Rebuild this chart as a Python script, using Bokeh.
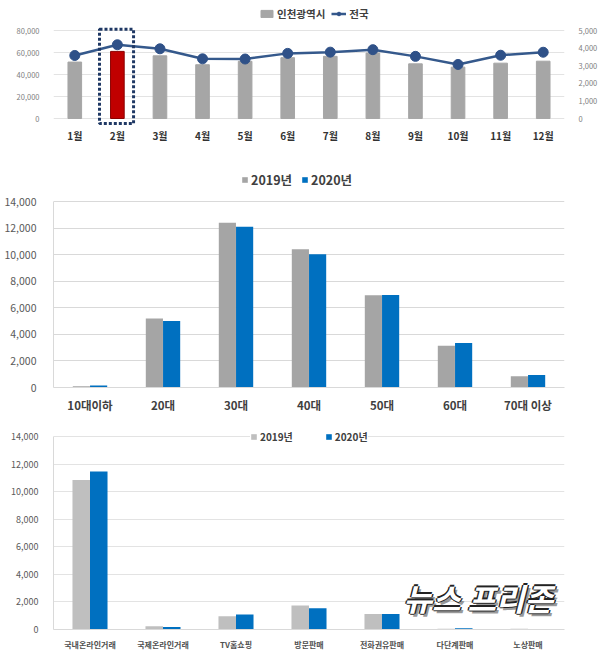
from bokeh.plotting import figure
from bokeh.layouts import column
from bokeh.models import (ColumnDataSource, FactorRange, Range1d, LinearAxis, FixedTicker,
                          NumeralTickFormatter, Legend, LegendItem, BoxAnnotation, Label)
from bokeh.transform import dodge
from bokeh.embed import file_html
from bokeh.resources import INLINE

FONT = "Noto Sans CJK KR"

# ---------------- data ----------------
months = ["1월", "2월", "3월", "4월", "5월", "6월", "7월", "8월", "9월", "10월", "11월", "12월"]
incheon = [51300, 61000, 57000, 48900, 52000, 55300, 56500, 59500, 49700, 46700, 50300, 52100]
national = [3580, 4190, 3960, 3390, 3380, 3700, 3770, 3910, 3530, 3070, 3595, 3765]
highlight_month = "2월"
incheon_ticks = [0, 20000, 40000, 60000, 80000]
national_ticks = [0, 1000, 2000, 3000, 4000, 5000]
chart1_series = ["인천광역시", "전국"]

age_groups = ["10대이하", "20대", "30대", "40대", "50대", "60대", "70대 이상"]
age_2019 = [100, 5200, 12400, 10400, 6950, 3150, 850]
age_2020 = [150, 5000, 12100, 10030, 6970, 3350, 950]

channels = ["국내온라인거래", "국제온라인거래", "TV홈쇼핑", "방문판매", "전화권유판매", "다단계판매", "노상판매"]
ch_2019 = [10850, 240, 960, 1740, 1130, 50, 50]
ch_2020 = [11470, 190, 1085, 1550, 1130, 90, 15]

count_ticks = [0, 2000, 4000, 6000, 8000, 10000, 12000, 14000]
years = ["2019년", "2020년"]
watermark = "뉴스 프리존"

GREY1 = "#A6A6A6"
RED = "#C00000"
NAVY_LINE = "#35598C"
BLUE = "#0070C0"
GRID = "#D9D9D9"


def base_fig(h, left, right, top, bottom, x_range, y_range):
    p = figure(width=600, height=h, x_range=x_range, y_range=y_range,
               output_backend="svg", toolbar_location=None,
               min_border_left=left, min_border_right=right,
               min_border_top=top, min_border_bottom=bottom)
    p.outline_line_color = None
    p.background_fill_color = "white"
    p.border_fill_color = "white"
    p.xgrid.grid_line_color = None
    p.ygrid.grid_line_color = GRID
    p.ygrid.grid_line_width = 1
    for ax in (p.xaxis, p.yaxis):
        ax.major_tick_line_color = None
        ax.minor_tick_line_color = None
    return p


# ---------------- chart 1 ----------------
F1_H, F1_TOP, F1_BOT = 150, 3, 25
frame1_h = F1_H - F1_TOP - F1_BOT        # 122 px
f1_bottom_abs = F1_H - F1_BOT            # 125
px1 = 88 / 80000.0                       # 0 at y=118, 80,000 at y=30
y1 = Range1d(-(f1_bottom_abs - 118) / px1, 80000 + (30 - F1_TOP) / px1)
p1 = base_fig(F1_H, 37, 35, F1_TOP, F1_BOT, FactorRange(*months), y1)
p1.ygrid.grid_line_color = "#E3E3E3"
ratio = 5000 / 80000.0
p1.extra_y_ranges = {"nat": Range1d(y1.start * ratio, y1.end * ratio)}

src1 = ColumnDataSource(dict(
    m=months, inc=incheon, nat=national,
    color=[RED if m == highlight_month else GREY1 for m in months],
    lcolor=["#8A0000" if m == highlight_month else GREY1 for m in months],
))
bars1 = p1.vbar(x="m", top="inc", width=0.32, source=src1, fill_color="color", line_color="lcolor",
                line_width=1)
line1 = p1.line(x="m", y="nat", source=src1, y_range_name="nat", line_color=NAVY_LINE, line_width=2.5)
dots1 = p1.scatter(x="m", y="nat", source=src1, y_range_name="nat", size=10,
                   fill_color="#2F5188", line_color="#2F5188")

p1.yaxis.ticker = FixedTicker(ticks=incheon_ticks)
p1.yaxis.formatter = NumeralTickFormatter(format="0,0")
p1.yaxis.axis_line_color = None
p1.yaxis.major_label_standoff = 8
p1.yaxis.major_label_text_font = FONT
p1.yaxis.major_label_text_font_size = "7.5px"
p1.yaxis.major_label_text_color = "#808080"

rax = LinearAxis(y_range_name="nat", ticker=FixedTicker(ticks=national_ticks),
                 formatter=NumeralTickFormatter(format="0,0"))
rax.axis_line_color = None
rax.major_tick_line_color = None
rax.minor_tick_line_color = None
rax.major_label_standoff = 8
rax.major_label_text_font = FONT
rax.major_label_text_font_size = "7.5px"
rax.major_label_text_color = "#808080"
p1.add_layout(rax, "right")

p1.xaxis.axis_line_color = None
p1.xaxis.major_label_standoff = -4
p1.xaxis.major_label_text_font = FONT
p1.xaxis.major_label_text_font_size = "10px"
p1.xaxis.major_label_text_font_style = "bold"
p1.xaxis.major_label_text_color = "#333333"

hl = months.index(highlight_month)
box = BoxAnnotation(left=hl + 0.08, right=hl + 0.88, top=80000 + 1.2 / px1, bottom=-5 / px1,
                    fill_alpha=0, line_alpha=1, line_color="#1F3864", line_width=3, line_dash="3 2")
p1.add_layout(box)

leg1 = Legend(items=[LegendItem(label=chart1_series[0], renderers=[bars1]),
                     LegendItem(label=chart1_series[1], renderers=[line1, dots1])],
              orientation="horizontal", location=(206, f1_bottom_abs - 20.5),
              padding=0, margin=0, spacing=6, label_standoff=3,
              glyph_width=15, glyph_height=9, label_height=12,
              label_text_font=FONT, label_text_font_size="10.5px", label_text_font_style="bold",
              label_text_color="#404040", border_line_color=None, background_fill_alpha=0)
p1.add_layout(leg1)

# ---------------- chart 2 ----------------
F2_H, F2_TOP, F2_BOT = 268, 18, 31
f2_bottom = F2_H - F2_BOT                 # 237 (figure coords)
px2 = 186 / 14000.0                        # 14,000 at fig y 51
y2 = Range1d(0, 14000 + (51 - F2_TOP) / px2)
p2 = base_fig(F2_H, 53, 14, F2_TOP, F2_BOT, FactorRange(*age_groups), y2)
src2 = ColumnDataSource(dict(g=age_groups, a=age_2019, b=age_2020))
b2a = p2.vbar(x=dodge("g", -0.118, range=p2.x_range), top="a", width=0.235, source=src2,
              fill_color="#A5A5A5", line_color=None)
b2b = p2.vbar(x=dodge("g", 0.118, range=p2.x_range), top="b", width=0.235, source=src2,
              fill_color=BLUE, line_color=None)
p2.yaxis.ticker = FixedTicker(ticks=count_ticks)
p2.yaxis.formatter = NumeralTickFormatter(format="0,0")
p2.yaxis.bounds = (0, count_ticks[-1])
p2.yaxis.axis_line_color = GRID
p2.yaxis.major_label_standoff = 11
p2.yaxis.major_label_text_font = FONT
p2.yaxis.major_label_text_font_size = "10.5px"
p2.yaxis.major_label_text_color = "#595959"
p2.xaxis.axis_line_color = GRID
p2.xaxis.major_label_standoff = 3
p2.xaxis.major_label_text_font = FONT
p2.xaxis.major_label_text_font_size = "11.5px"
p2.xaxis.major_label_text_font_style = "bold"
p2.xaxis.major_label_text_color = "#404040"
leg2 = Legend(items=[LegendItem(label=years[0], renderers=[b2a]),
                     LegendItem(label=years[1], renderers=[b2b])],
              orientation="horizontal", location=(188, f2_bottom - 38.5),
              padding=0, margin=0, spacing=9, label_standoff=3,
              glyph_width=7, glyph_height=7, label_height=12,
              label_text_font=FONT, label_text_font_size="12.5px", label_text_font_style="bold",
              label_text_color="#404040", border_line_color=None, background_fill_alpha=0)
p2.add_layout(leg2)

# ---------------- chart 3 ----------------
F3_H, F3_TOP, F3_BOT = 253, 5, 42
f3_bottom = F3_H - F3_BOT                  # 211 (figure coords)
px3 = 193 / 14000.0                         # 14,000 at fig y 18
y3 = Range1d(0, 14000 + (18 - F3_TOP) / px3)
p3 = base_fig(F3_H, 48, 8, F3_TOP, F3_BOT, FactorRange(*channels), y3)
p3.ygrid.grid_line_color = "#E3E3E3"
src3 = ColumnDataSource(dict(c=channels, a=ch_2019, b=ch_2020))
b3a = p3.vbar(x=dodge("c", -0.12, range=p3.x_range), top="a", width=0.24, source=src3,
              fill_color="#BFBFBF", line_color=None)
b3b = p3.vbar(x=dodge("c", 0.12, range=p3.x_range), top="b", width=0.24, source=src3,
              fill_color=BLUE, line_color=None)
p3.yaxis.ticker = FixedTicker(ticks=count_ticks)
p3.yaxis.formatter = NumeralTickFormatter(format="0,0")
p3.yaxis.bounds = (0, count_ticks[-1])
p3.yaxis.axis_line_color = GRID
p3.yaxis.major_label_standoff = 9
p3.yaxis.major_label_text_font = FONT
p3.yaxis.major_label_text_font_size = "9px"
p3.yaxis.major_label_text_color = "#595959"
p3.xaxis.axis_line_color = GRID
p3.xaxis.major_label_standoff = 3
p3.xaxis.major_label_text_font = FONT
p3.xaxis.major_label_text_font_size = "8px"
p3.xaxis.major_label_text_font_style = "bold"
p3.xaxis.major_label_text_color = "#505050"
leg3 = Legend(items=[LegendItem(label=years[0], renderers=[b3a]),
                     LegendItem(label=years[1], renderers=[b3b])],
              orientation="horizontal", location=(197, f3_bottom - 26),
              padding=0, margin=0, spacing=32, label_standoff=3,
              glyph_width=7, glyph_height=7, label_height=12,
              label_text_font=FONT, label_text_font_size="10px", label_text_font_style="bold",
              label_text_color="#404040", border_line_color=None,
              background_fill_color="white", background_fill_alpha=1)
p3.add_layout(leg3)

# watermark
wm_x, wm_y = 350, 10
for dx, dy, col, al in [(3, -3, "#555555", 0.6), (-1.5, 0, "#222222", 1), (1.5, 0, "#222222", 1),
                        (0, 1.5, "#222222", 1), (0, -1.5, "#222222", 1), (0, 0, "white", 1)]:
    p3.add_layout(Label(x=wm_x + dx, y=wm_y + dy, x_units="screen", y_units="screen",
                        text=watermark, text_font=FONT, text_font_size="31px",
                        text_font_style="bold italic", text_color=col, text_alpha=al))

layout = column(p1, p2, p3, spacing=0)
open("out.html", "w").write(file_html(layout, INLINE))
